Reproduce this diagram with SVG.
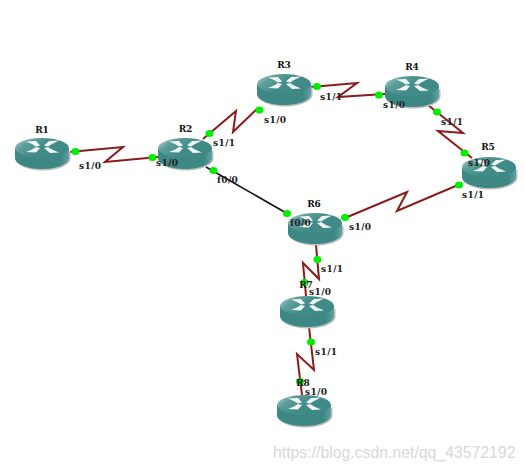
<svg xmlns="http://www.w3.org/2000/svg" width="525" height="472" viewBox="0 0 525 472">
<style>
.s{fill:none;stroke:#8b1a1a;stroke-width:2;stroke-linejoin:miter}
.e{fill:none;stroke:#111;stroke-width:1.6}
.d{fill:#00ee00}
.n{font:bold 9px "DejaVu Serif","Liberation Serif",serif;fill:#111;text-anchor:middle}
.l{font:bold 9px "DejaVu Serif","Liberation Serif",serif;fill:#222;letter-spacing:.4px}
.w{font:15.800px "Liberation Sans",Arial,sans-serif;fill:#d8d8d8}
.x{fill:#fff;opacity:.92}
</style>
<defs>
<linearGradient id="top" x1="0" y1="0" x2="1" y2="0.5"><stop offset="0" stop-color="#bcd8d6"/><stop offset=".28" stop-color="#5f9f9c"/><stop offset=".6" stop-color="#418c89"/><stop offset="1" stop-color="#3f8a87"/></linearGradient>
<linearGradient id="side" x1="0" y1="0" x2="1" y2="0"><stop offset="0" stop-color="#3d8785"/><stop offset=".85" stop-color="#3d8785"/><stop offset="1" stop-color="#62a2a0"/></linearGradient>
<g id="router">
<path d="M0.500 13V20.500C0.500 27 13 32.500 28 32.500S55.500 27 55.500 20.500V13Z" fill="#bdbdbd"/>
<path d="M0 10V20C0 26 12 31 27 31S54 26 54 20V10Z" fill="url(#side)"/>
<ellipse cx="27" cy="10" rx="27" ry="10" fill="url(#top)"/>
<path class="x" d="M11 3.500L21 3 25 7.500 21 8.500 17 6ZM44 2.500L34 3 29 7.500 33 8.500 37 6ZM11 14L21 14.500 25 10 21 9 17 11.500ZM44 14.500L35 15 29 10 33 9 37 11.500Z"/>
</g>
</defs>
<g id="connectors">
<polyline class="s" points="69,152 123,147 105,162 158,157"/>
<polyline class="s" points="203,139 236,111 233,132 258,108"/>
<polyline class="s" points="311,87 357,83 338,97 385,94"/>
<polyline class="s" points="428,105 463,133 438,131 472,158"/>
<polyline class="s" points="458,185 397,211 407,192 345,218"/>
<line class="e" x1="206" y1="167" x2="288" y2="214"/>
<polyline class="s" points="316,245 319,279 303,263 306,296"/>
<polyline class="s" points="309,327 314,370 297,354 302,395"/>
</g>
<g id="R1"><use href="#router" x="15" y="138"/></g>
<g id="R2"><use href="#router" x="158" y="138"/></g>
<g id="R3"><use href="#router" x="257" y="74"/></g>
<g id="R4"><use href="#router" x="385" y="76"/></g>
<g id="R5"><use href="#router" x="462" y="157"/></g>
<g id="R6"><use href="#router" x="288" y="213"/></g>
<g id="R7"><use href="#router" x="280" y="296"/></g>
<g id="R8"><use href="#router" x="277" y="395"/></g>
<g id="dots">
<ellipse class="d" cx="75.500" cy="151.500" rx="4" ry="3.500"/>
<ellipse class="d" cx="152.500" cy="157.500" rx="4" ry="3.500"/>
<ellipse class="d" cx="209.500" cy="133.500" rx="4" ry="3.500"/>
<ellipse class="d" cx="259.500" cy="110" rx="4" ry="3.500"/>
<ellipse class="d" cx="213.500" cy="170.500" rx="4" ry="3.500"/>
<ellipse class="d" cx="317" cy="86.500" rx="4" ry="3.500"/>
<ellipse class="d" cx="379" cy="95" rx="4" ry="3.500"/>
<ellipse class="d" cx="437" cy="112" rx="4" ry="3.500"/>
<ellipse class="d" cx="464.500" cy="153" rx="4" ry="3.500"/>
<ellipse class="d" cx="459" cy="185" rx="4" ry="3.500"/>
<ellipse class="d" cx="345" cy="217.500" rx="4" ry="3.500"/>
<ellipse class="d" cx="287" cy="213.500" rx="4" ry="3.500"/>
<ellipse class="d" cx="317.500" cy="259.500" rx="4" ry="3.500"/>
<ellipse class="d" cx="304.500" cy="282.500" rx="4" ry="3.500"/>
<ellipse class="d" cx="311" cy="342" rx="4" ry="3.500"/>
<ellipse class="d" cx="300" cy="381.500" rx="4" ry="3.500"/>
</g>
<g id="names">
<text class="n" x="42" y="133">R1</text>
<text class="n" x="185.500" y="132">R2</text>
<text class="n" x="284" y="68">R3</text>
<text class="n" x="412" y="70">R4</text>
<text class="n" x="488" y="150">R5</text>
<text class="n" x="314" y="207">R6</text>
<text class="n" x="306" y="288">R7</text>
<text class="n" x="303" y="386">R8</text>
</g>
<g id="labels">
<text class="l" x="79" y="169">s1/0</text>
<text class="l" x="156" y="166">s1/0</text>
<text class="l" x="213" y="146">s1/1</text>
<text class="l" x="217" y="183">f0/0</text>
<text class="l" x="264" y="123">s1/0</text>
<text class="l" x="320" y="100">s1/1</text>
<text class="l" x="383" y="108">s1/0</text>
<text class="l" x="441" y="125">s1/1</text>
<text class="l" x="468" y="166">s1/0</text>
<text class="l" x="462" y="198">s1/1</text>
<text class="l" x="290" y="226">f0/0</text>
<text class="l" x="349" y="230">s1/0</text>
<text class="l" x="321" y="272">s1/1</text>
<text class="l" x="309" y="295">s1/0</text>
<text class="l" x="315" y="355">s1/1</text>
<text class="l" x="305" y="395">s1/0</text>
</g>
<text class="w" x="273" y="458">https://blog.csdn.net/qq_43572192</text>
</svg>
